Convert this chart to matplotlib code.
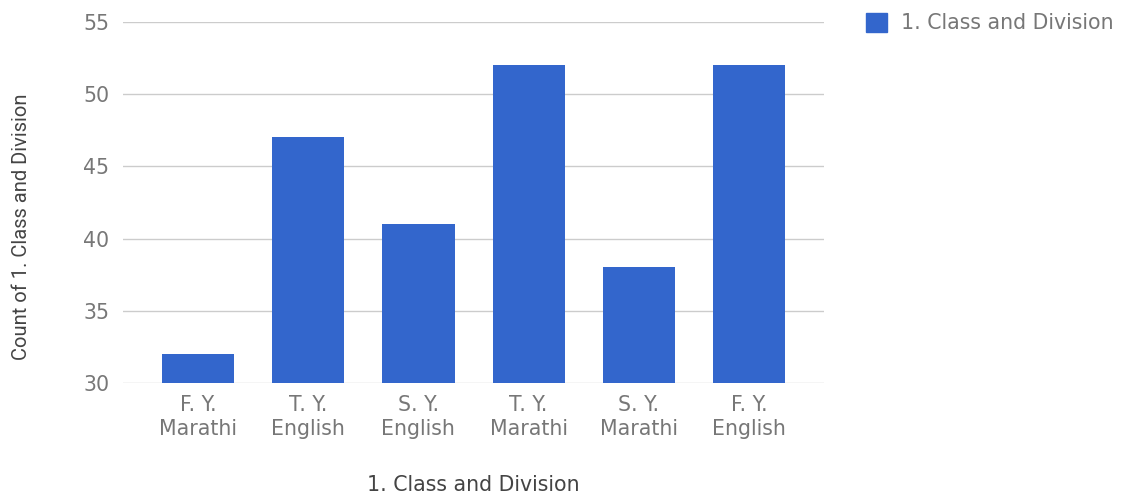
import matplotlib
matplotlib.use("Agg")
from matplotlib import pyplot as plt
from matplotlib.patches import Patch

categories = ["F. Y.\nMarathi", "T. Y.\nEnglish", "S. Y.\nEnglish",
              "T. Y.\nMarathi", "S. Y.\nMarathi", "F. Y.\nEnglish"]
counts = [32, 47, 41, 52, 38, 52]
yticks = [30, 35, 40, 45, 50, 55]
series_name = "1. Class and Division"

plt.rcParams['font.family'] = ['DejaVu Sans']
blue = '#3366cc'
grey = '#777777'
fs = 14.8

fig = plt.figure(figsize=(11.33, 4.95), dpi=100)
ax = fig.add_axes([0.1086, 0.2263, 0.6187, 0.7293])

x = list(range(len(categories)))
ax.bar(x, counts, width=0.655, color=blue, zorder=3)

ax.set_ylim(30, 55)
ax.set_yticks(yticks)
ax.set_xlim(-0.68, 5.68)
ax.set_xticks(x)
ax.set_xticklabels(categories, fontsize=fs, color=grey, linespacing=1.2)
ax.set_yticklabels([str(v) for v in yticks], fontsize=fs, color=grey)

ax.grid(axis='y', color='#cccccc', linewidth=1, zorder=0)
ax.tick_params(axis='both', length=0)
ax.tick_params(axis='y', pad=10)
ax.tick_params(axis='x', pad=9)
for s in ax.spines.values():
    s.set_visible(False)

ax.set_xlabel(series_name, fontsize=fs, color='#444444', labelpad=26)
fig.text(0.019, 0.541, "Count of 1. Class and Division", rotation=90,
         fontsize=14.5, color='#444444', va='center', ha='center',
         family=['Roboto', 'DejaVu Sans'])

handle = Patch(facecolor=blue, edgecolor=blue)
fig.legend([handle], [series_name], loc='upper left',
           bbox_to_anchor=(0.748, 1.012), frameon=False, fontsize=fs,
           labelcolor=grey, handlelength=1.0, handleheight=1.1,
           handletextpad=0.7)

fig.savefig("out.png", dpi=100)
